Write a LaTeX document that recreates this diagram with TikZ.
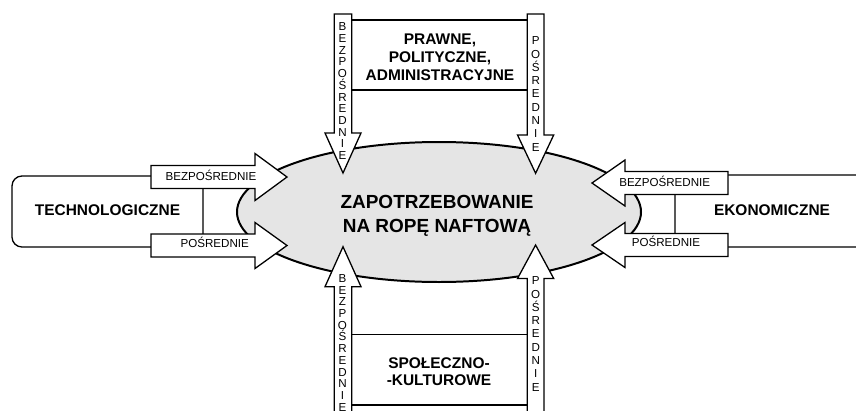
\documentclass[tikz,border=0pt]{standalone}
\usepackage{fontspec}
\setmainfont{Liberation Sans}

\begin{document}
\begin{tikzpicture}[x=0.3mm,y=-0.3mm,line width=1.1pt,
		blockarrow/.style={draw,fill=white,line join=miter},
		boxlabel/.style={font=\fontsize{13.2}{15.2}\selectfont\bfseries,align=center,inner sep=0pt},
		arrowlabel/.style={font=\fontsize{9.9}{11}\selectfont,inner sep=0pt,anchor=base},
		bezlabel/.style={font=\fontsize{9.9}{10}\selectfont,align=center,inner sep=0pt},
		poslabel/.style={font=\fontsize{9.9}{11.35}\selectfont,align=center,inner sep=0pt}]
		\useasboundingbox (0,0) rectangle (856,410);
		\clip (0,0) rectangle (856,410);
		
		% frames behind everything
		\draw[rounded corners=8.5pt] (12,176) rectangle (203,247);
		\draw[rounded corners=8.5pt] (675,175) rectangle (866,247);
		\draw (343,20) rectangle (535.6,90);
		\draw (343,334.5) rectangle (535.6,405);
		
		\filldraw[fill=gray!20,line width=1.7pt] (439,212) ellipse [x radius=202,y radius=70];
		\node[font=\fontsize{16.2}{20.5}\selectfont\bfseries,align=center,inner sep=0pt,text depth=0pt] (demand) at (437,213.7) {ZAPOTRZEBOWANIE\\NA ROPĘ NAFTOWĄ};
		
		\node[boxlabel,anchor=base] (techno) at (107.5,215) {TECHNOLOGICZNE};
		\node[boxlabel,anchor=base] (econ) at (772,215) {EKONOMICZNE};
		\node[boxlabel] (legal) at (440,57.5) {PRAWNE,\\POLITYCZNE,\\ADMINISTRACYJNE};
		\node[boxlabel] (social) at (439,371.7) {SPOŁECZNO-\\-KULTUROWE};
		
		% horizontal arrows
		\path[blockarrow] (151,165.5) -- (255,165.5) -- (255,153.5) -- (287,177) -- (255,200.5) -- (255,188.5) -- (151,188.5) -- cycle;
		\path[blockarrow] (151,234) -- (255,234) -- (255,222.5) -- (287,245.5) -- (255,268.5) -- (255,257) -- (151,257) -- cycle;
		\path[blockarrow] (728,171.5) -- (625,171.5) -- (625,160) -- (592,183) -- (625,206) -- (625,194.5) -- (728,194.5) -- cycle;
		\path[blockarrow] (728,233.5) -- (625,233.5) -- (625,222.5) -- (592,245) -- (625,267.5) -- (625,256.5) -- (728,256.5) -- cycle;
		\node[arrowlabel] (tdir) at (211,180.5) {BEZPOŚREDNIE};
		\node[arrowlabel] (tind) at (214.7,247.5) {POŚREDNIE};
		\node[arrowlabel] (edir) at (664.7,186) {BEZPOŚREDNIE};
		\node[arrowlabel] (eind) at (666,246.7) {POŚREDNIE};
		
		% vertical arrows
		\path[blockarrow] (334.3,14) -- (334.3,133) -- (325,133) -- (343,173) -- (361,133) -- (351.7,133) -- (351.7,14) -- cycle;
		\path[blockarrow] (527.2,14) -- (527.2,135) -- (517.5,135) -- (535.6,173.3) -- (553.7,135) -- (544,135) -- (544,14) -- cycle;
		\path[blockarrow] (334.3,420) -- (334.3,286.7) -- (325,286.7) -- (343,246.7) -- (361,286.7) -- (351.7,286.7) -- (351.7,420) -- cycle;
		\path[blockarrow] (527.2,420) -- (527.2,278.5) -- (517.5,278.5) -- (535.6,245) -- (553.7,278.5) -- (544,278.5) -- (544,420) -- cycle;
		\node[bezlabel] (ldir) at (342.5,91.2) {B\\E\\Z\\P\\O\\Ś\\R\\E\\D\\N\\I\\E};
		\node[poslabel] (lind) at (535.7,94) {P\\O\\Ś\\R\\E\\D\\N\\I\\E};
		\node[bezlabel] (sdir) at (342.5,342.8) {B\\E\\Z\\P\\O\\Ś\\R\\E\\D\\N\\I\\E};
		\node[poslabel] (sind) at (535.7,334) {P\\O\\Ś\\R\\E\\D\\N\\I\\E};
\end{tikzpicture}
\end{document}
